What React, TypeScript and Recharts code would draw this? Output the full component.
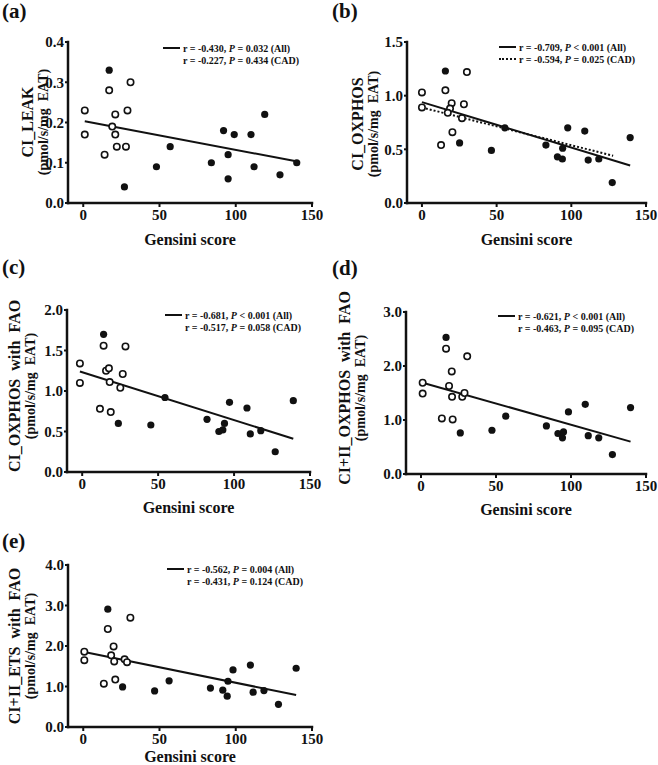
import { ScatterChart, Scatter, XAxis, YAxis } from 'recharts'

const FONT = '"Liberation Serif", "Times New Roman", serif'
const X_TICKS = [0, 50, 100, 150]

// (a) CI_LEAK
const leakOpenX = [1, 1, 17, 21, 19, 21, 22, 14, 28, 29, 31]
const leakOpenY = [0.23, 0.17, 0.28, 0.22, 0.19, 0.17, 0.14, 0.12, 0.14, 0.23, 0.3]
const leakCadX = [17, 27, 48, 57, 84, 92, 95, 95, 99, 110, 112, 119, 129, 140]
const leakCadY = [0.33, 0.04, 0.09, 0.14, 0.1, 0.18, 0.12, 0.06, 0.17, 0.17, 0.09, 0.22, 0.07, 0.1]
const leakFitX = [1, 140.5]
const leakFitY = [0.203, 0.103]

// (b) CI_OXPHOS
const oxOpenX = [0, 0, 15.7, 19.9, 18.8, 17.3, 30.1, 28.1, 26.8, 20.4, 12.8]
const oxOpenY = [1.03, 0.89, 1.05, 0.93, 0.88, 0.84, 1.22, 0.92, 0.79, 0.66, 0.54]
const oxCadX = [15.7, 25.2, 46.5, 55.5, 83, 90.7, 94, 94.2, 97.6, 109, 111.3, 118.4, 127.4, 139.4]
const oxCadY = [1.23, 0.56, 0.49, 0.7, 0.54, 0.43, 0.41, 0.51, 0.7, 0.67, 0.4, 0.41, 0.19, 0.61]
const oxFitX = [0, 139.4]
const oxFitY = [0.94, 0.35]
const oxCadFitX = [0, 128]
const oxCadFitY = [0.89, 0.44]

// (c) CI_OXPHOS with FAO
const faoOpenX = [-1.5, -1.5, 14.1, 11.7, 15.7, 17.6, 18.1, 18.8, 25.1, 26.7, 28.5]
const faoOpenY = [1.34, 1.1, 1.56, 0.78, 1.25, 1.28, 1.11, 0.74, 1.04, 1.21, 1.55]
const faoCadX = [14.1, 23.8, 45.2, 54.5, 82.2, 90, 92.6, 93.7, 97, 108.5, 110.7, 117.6, 127.1, 139]
const faoCadY = [1.7, 0.6, 0.58, 0.92, 0.65, 0.5, 0.52, 0.6, 0.86, 0.79, 0.47, 0.51, 0.25, 0.88]
const faoFitX = [-1.5, 139]
const faoFitY = [1.24, 0.41]

// (d) CI+II_OXPHOS with FAO
const ox2OpenX = [1.1, 1.1, 16.7, 20.5, 18.7, 20.7, 21.1, 13.9, 27.5, 29, 30.8]
const ox2OpenY = [1.69, 1.49, 2.32, 1.9, 1.63, 1.43, 1.01, 1.03, 1.43, 1.5, 2.18]
const ox2CadX = [16.7, 26.2, 47.3, 56.5, 83.6, 91.3, 94.3, 95, 98.3, 109.5, 111.5, 118.5, 127.6, 139.7]
const ox2CadY = [2.53, 0.76, 0.81, 1.07, 0.89, 0.75, 0.67, 0.78, 1.15, 1.29, 0.71, 0.67, 0.36, 1.23]
const ox2FitX = [1.1, 139.7]
const ox2FitY = [1.69, 0.6]

// (e) CI+II_ETS with FAO
const etsOpenX = [0.7, 0.7, 16.1, 19.9, 18.3, 20.3, 21, 13.5, 27.1, 28.7, 30.9]
const etsOpenY = [1.86, 1.65, 2.42, 1.99, 1.77, 1.62, 1.17, 1.07, 1.67, 1.6, 2.7]
const etsCadX = [16.1, 25.8, 46.8, 56.3, 83.4, 91.5, 94.9, 94.4, 98.2, 109.6, 111.4, 118.5, 128, 139.6]
const etsCadY = [2.91, 0.99, 0.89, 1.14, 0.96, 0.91, 1.13, 0.76, 1.41, 1.53, 0.86, 0.9, 0.56, 1.45]
const etsFitX = [0.7, 139.6]
const etsFitY = [1.85, 0.79]

const zip = (xs: number[], ys: number[]) => xs.map((x, i) => ({ x, y: ys[i] }))

interface Stat { r: string; op: string; p: string; group: string; line?: 'solid' | 'dotted' }

interface PanelCfg {
  tag: string
  left: number; top: number
  pl: number; pt: number; pw: number; ph: number
  yMax: number; yTicks: number[]
  title: string
  titlePos: [number, number]
  tagTop: number
  xLabelY: number
  legendPos: [number, number]
  stats: Stat[]
  open: { x: number; y: number }[]
  cad: { x: number; y: number }[]
  fit: { x: number; y: number }[]
  cadFit?: { x: number; y: number }[]
}

const PANELS: PanelCfg[] = [
  {
    tag: '(a)', left: 0, top: 0, pl: 68, pt: 42, pw: 244, ph: 161,
    yMax: 0.4, yTicks: [0, 0.1, 0.2, 0.3, 0.4], title: 'CI_LEAK', titlePos: [35, 122], tagTop: 0, xLabelY: 240,
    legendPos: [163, 48],
    stats: [
      { r: '-0.430', op: '=', p: '0.032', group: 'All', line: 'solid' },
      { r: '-0.227', op: '=', p: '0.434', group: 'CAD' },
    ],
    open: zip(leakOpenX, leakOpenY), cad: zip(leakCadX, leakCadY), fit: zip(leakFitX, leakFitY),
  },
  {
    tag: '(b)', left: 330, top: 0, pl: 77, pt: 42, pw: 239, ph: 161,
    yMax: 1.5, yTicks: [0, 0.5, 1, 1.5], title: 'CI_OXPHOS', titlePos: [35, 124], tagTop: 0, xLabelY: 240,
    legendPos: [169, 47],
    stats: [
      { r: '-0.709', op: '<', p: '0.001', group: 'All', line: 'solid' },
      { r: '-0.594', op: '=', p: '0.025', group: 'CAD', line: 'dotted' },
    ],
    open: zip(oxOpenX, oxOpenY), cad: zip(oxCadX, oxCadY), fit: zip(oxFitX, oxFitY), cadFit: zip(oxCadFitX, oxCadFitY),
  },
  {
    tag: '(c)', left: 0, top: 240, pl: 67, pt: 70, pw: 243, ph: 162,
    yMax: 2, yTicks: [0, 0.5, 1, 1.5, 2], title: 'CI_OXPHOS  with  FAO', titlePos: [22, 146], tagTop: 16, xLabelY: 268,
    legendPos: [165, 75],
    stats: [
      { r: '-0.681', op: '<', p: '0.001', group: 'All', line: 'solid' },
      { r: '-0.517', op: '=', p: '0.058', group: 'CAD' },
    ],
    open: zip(faoOpenX, faoOpenY), cad: zip(faoCadX, faoCadY), fit: zip(faoFitX, faoFitY),
  },
  {
    tag: '(d)', left: 330, top: 240, pl: 76, pt: 72, pw: 240, ph: 162,
    yMax: 3, yTicks: [0, 1, 2, 3], title: 'CI+II_OXPHOS  with  FAO', titlePos: [22, 148], tagTop: 17, xLabelY: 270,
    legendPos: [168, 76],
    stats: [
      { r: '-0.621', op: '<', p: '0.001', group: 'All', line: 'solid' },
      { r: '-0.463', op: '=', p: '0.095', group: 'CAD' },
    ],
    open: zip(ox2OpenX, ox2OpenY), cad: zip(ox2CadX, ox2CadY), fit: zip(ox2FitX, ox2FitY),
  },
  {
    tag: '(e)', left: 0, top: 490, pl: 68, pt: 75, pw: 244, ph: 162,
    yMax: 4, yTicks: [0, 1, 2, 3, 4], title: 'CI+II_ETS  with  FAO', titlePos: [22, 156], tagTop: 40, xLabelY: 267,
    legendPos: [167, 79],
    stats: [
      { r: '-0.562', op: '=', p: '0.004', group: 'All', line: 'solid' },
      { r: '-0.431', op: '=', p: '0.124', group: 'CAD' },
    ],
    open: zip(etsOpenX, etsOpenY), cad: zip(etsCadX, etsCadY), fit: zip(etsFitX, etsFitY),
  },
]

const OpenDot = (props: any) => (
  <circle cx={props.cx} cy={props.cy} r={3.2} fill="#fff" stroke="#111" strokeWidth={1.6} />
)
const FilledDot = (props: any) => (
  <circle cx={props.cx} cy={props.cy} r={3.6} fill="#111" />
)
const NoDot = () => <g />

const W = 328
const H = 280
const Y_AXIS_W = 40
const X_AXIS_H = 30

const tickStyle = { fill: '#111', fontSize: 15, fontWeight: 'bold', fontFamily: FONT }
const axisLine = { stroke: '#111', strokeWidth: 2.5, strokeLinecap: 'square' as const }

function Panel({ p }: { p: PanelCfg }) {
  const margin = {
    top: p.pt,
    left: p.pl - Y_AXIS_W,
    right: W - p.pl - p.pw,
    bottom: H - p.pt - p.ph - X_AXIS_H,
  }

  return (
    <div style={{ position: 'absolute', left: p.left, top: p.top, width: W, height: H, fontFamily: FONT, color: '#111' }}>
      <ScatterChart width={W} height={H} margin={margin}>
        <XAxis
          type="number" dataKey="x" domain={[-10, 150]} ticks={X_TICKS} height={X_AXIS_H}
          axisLine={axisLine} tickLine={{ stroke: '#111', strokeWidth: 2 }} tickSize={4} tickMargin={2}
          tick={tickStyle} allowDataOverflow
        />
        <YAxis
          type="number" dataKey="y" domain={[0, p.yMax]} ticks={p.yTicks} width={Y_AXIS_W}
          axisLine={axisLine} tickLine={{ stroke: '#111', strokeWidth: 2 }} tickSize={3} tickMargin={1}
          tick={tickStyle} tickFormatter={(v: number) => v.toFixed(1)} allowDataOverflow
        />
        <Scatter data={p.fit} line={{ stroke: '#111', strokeWidth: 2 }} shape={NoDot} isAnimationActive={false} />
        {p.cadFit && (
          <Scatter data={p.cadFit} line={{ stroke: '#111', strokeWidth: 2, strokeDasharray: '2 2' }} shape={NoDot} isAnimationActive={false} />
        )}
        <Scatter data={p.cad} shape={FilledDot} isAnimationActive={false} />
        <Scatter data={p.open} shape={OpenDot} isAnimationActive={false} />
      </ScatterChart>

      {/* panel tag */}
      <div style={{ position: 'absolute', left: 2, top: p.tagTop, fontSize: 21, fontWeight: 'bold', lineHeight: '22px' }}>
        {p.tag}
      </div>

      {/* y title, rotated */}
      <div
        style={{
          position: 'absolute', left: p.titlePos[0], top: p.titlePos[1],
          transform: 'translate(-50%, -50%) rotate(-90deg)', whiteSpace: 'pre', textAlign: 'center',
          fontWeight: 'bold',
        }}
      >
        <div style={{ fontSize: 16, lineHeight: '17px' }}>{p.title}</div>
        <div style={{ fontSize: 14, lineHeight: '15px' }}>(pmol/s/mg  EAT)</div>
      </div>

      {/* x title */}
      <div
        style={{
          position: 'absolute', left: p.pl, width: p.pw, top: p.xLabelY - 10, textAlign: 'center',
          fontSize: 16, fontWeight: 'bold', lineHeight: '20px',
        }}
      >
        Gensini score
      </div>

      {/* stats legend */}
      <div style={{ position: 'absolute', left: p.legendPos[0], top: p.legendPos[1] - 6 }}>
        {p.stats.map((s) => (
          <div key={s.group} style={{ display: 'flex', alignItems: 'center', height: 12, fontSize: 10, fontWeight: 'bold', whiteSpace: 'pre' }}>
            <span
              style={{
                display: 'inline-block', width: 17, marginRight: 3,
                borderTop: s.line ? `2px ${s.line} #111` : '2px solid transparent',
              }}
            />
            <span>
              r = {s.r}, <i>P</i> {s.op} {s.p} ({s.group})
            </span>
          </div>
        ))}
      </div>
    </div>
  )
}

export default function App() {
  return (
    <div style={{ position: 'absolute', left: 0, top: 0, width: 658, height: 765, background: '#fff' }}>
      {PANELS.map((p) => (
        <Panel key={p.tag} p={p} />
      ))}
    </div>
  )
}
